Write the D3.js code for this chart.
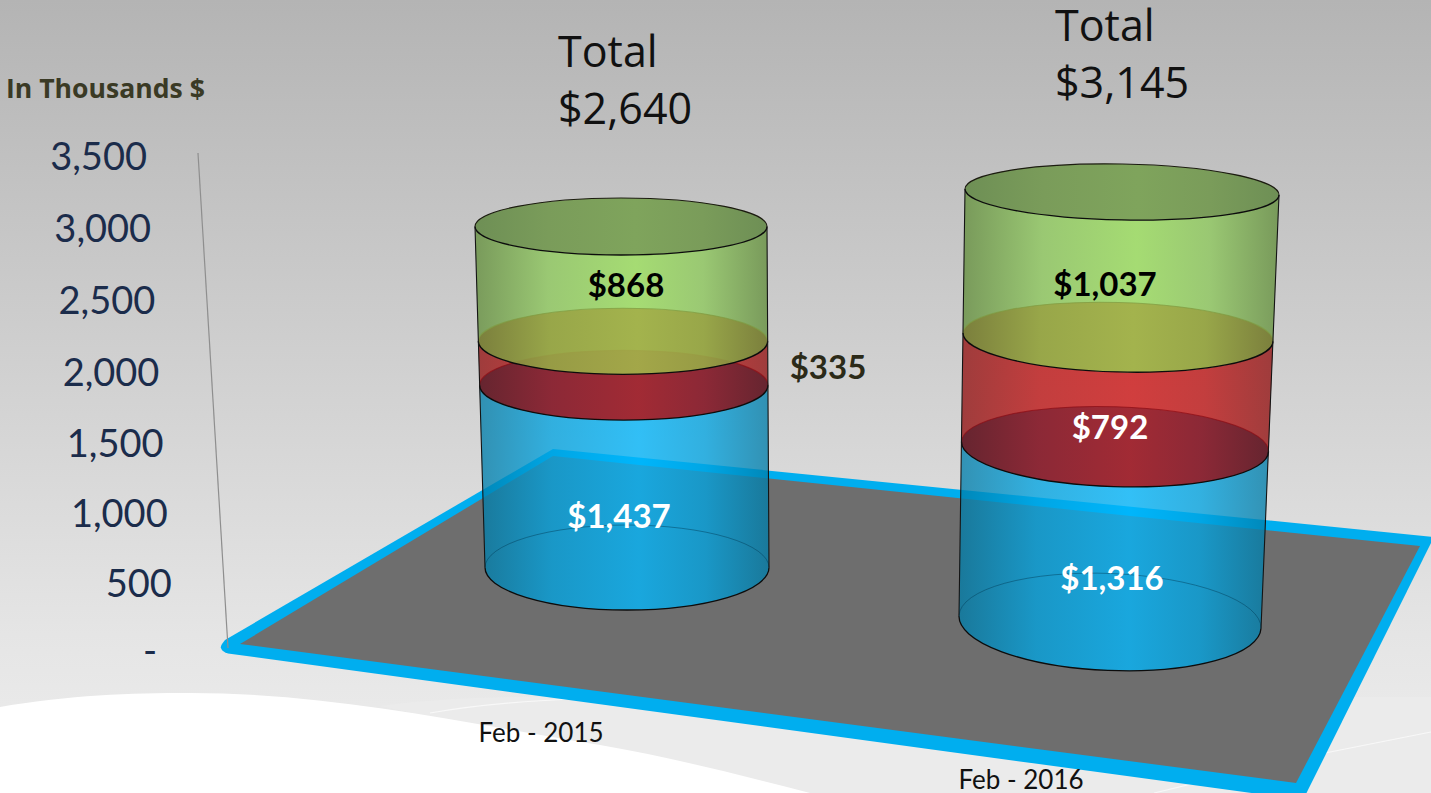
<!DOCTYPE html>
<html><head><meta charset="utf-8">
<script src="https://cdn.jsdelivr.net/npm/d3@7"></script>
<style>html,body{margin:0;padding:0;background:#fff;overflow:hidden}svg{display:block}text{font-family:Lato,"Open Sans",sans-serif}</style>
</head><body>
<script>
// ---- data ----
const categories = ["Feb - 2015", "Feb - 2016"];
const seriesBlue = [1437, 1316];
const seriesRed = [335, 792];
const seriesGreen = [868, 1037];
const totals = [2640, 3145];
const axisTicks = [0, 500, 1000, 1500, 2000, 2500, 3000, 3500];
const axisTitle = "In Thousands $";

// ---- perspective layout of each cylinder (pixel ranges for the scales) ----
const W = 1431, H = 793;
const cylGeom = [
  {y:[567.5,226.5], left:[485,475], right:[769,767], ry:[42.5,28.5], tilt:[0,0]},
  {y:[622,192],     left:[959,965], right:[1261,1279], ry:[48.5,28], tilt:[2.4,1.1]}
];
const labelPos = [
  [{x:619,y:516,c:"#fff"},{x:828,y:367,c:"#2b2a18"},{x:626,y:285,c:"#000"}],
  [{x:1112,y:578,c:"#fff"},{x:1110,y:427,c:"#fff"},{x:1105,y:284,c:"#000"}]
];
const totalPos = [{x:558,y:[67,124]},{x:1055,y:[41,98]}];

const svg = d3.select("body").append("svg").attr("width",W).attr("height",H);
const defs = svg.append("defs");

function hGrad(id, edge, mid, center){
  const g = defs.append("linearGradient").attr("id",id).attr("x1",0).attr("x2",1).attr("y1",0).attr("y2",0);
  [[0,edge],[.25,mid],[.55,center],[.78,mid],[1,edge]].forEach(([o,c])=>g.append("stop").attr("offset",o).attr("stop-color",c));
}
hGrad("gBlue","#007ca8","#00a4e2","#00b8ff");
hGrad("gRed","#962222","#c02424","#d02424");
hGrad("gGreen","#6b9248","#92c864","#9fdf64");
hGrad("dRed","#64242f","#8a2836","#a02a34");
hGrad("dOlive","#7b7d3a","#98a446","#a3b04a");
hGrad("dGreen","#6e8f55","#7a9c5a","#7fa45c");

const bg = defs.append("linearGradient").attr("id","bg").attr("x1",0).attr("x2",0).attr("y1",0).attr("y2",1);
bg.append("stop").attr("offset",0).attr("stop-color","#b4b4b4");
bg.append("stop").attr("offset",.8).attr("stop-color","#e5e5e5");
bg.append("stop").attr("offset",1).attr("stop-color","#eeeeee");
svg.append("rect").attr("width",W).attr("height",H).attr("fill","url(#bg)");

// white wave and pale swooshes at the bottom
svg.append("path").attr("fill","#ebebeb")
  .attr("d","M380,706 C450,697 520,696 600,697 L1431,697 L1431,793 L800,793 Z");
svg.append("path").attr("fill","#ffffff")
  .attr("d","M0,707 C70,695 130,693 190,693 C330,693 460,722 600,745 C670,757 740,775 810,793 L0,793 Z");
svg.append("path").attr("fill","none").attr("stroke","#f8f8f8").attr("stroke-width",1.2)
  .attr("d","M430,713 C470,706 520,701 575,699");
svg.append("path").attr("fill","none").attr("stroke","#f8f8f8").attr("stroke-width",1.2)
  .attr("d","M1320,754 L1431,732 M1154,793 L1200,782");

// floor
svg.append("path").attr("fill","#00aeef")
  .attr("d","M553,449 L1434,537 L1303,800 L228,653.5 Q218,650 222,644 L225,640 Z");
svg.append("path").attr("fill","#6e6e6e")
  .attr("d","M240,644 L553,456 L1420,546 L1296,783 Z");

// axis
const yAxisScale = d3.scalePow().exponent(1.023).domain([0,3500]).range([650,156]);
const xAxisScale = d3.scaleLinear().domain([0,3500]).range([176,147]);
svg.append("line").attr("x1",198).attr("y1",153).attr("x2",228).attr("y2",648)
  .attr("stroke","#8e8e8e").attr("stroke-width",1.2);
const fmt = d3.format(",");
const axisG = svg.append("g").call(d3.axisLeft(yAxisScale).tickValues(axisTicks).tickSize(0)
  .tickFormat(d => d===0 ? "-" : fmt(d)));
axisG.select(".domain").remove();
axisG.selectAll("text")
  .attr("font-family","Open Sans").attr("font-size",38).attr("fill","#1b2c4b").attr("dy","0.36em")
  .attr("text-anchor","end")
  .attr("x", d => d===0 ? 157 : xAxisScale(d));
svg.append("text").attr("x",6).attr("y",98).style("font-family","Open Sans").attr("font-size",26.6).attr("font-weight",700)
  .attr("fill","#3a3a25").text(axisTitle);

// cylinders
function cylinder(i){
  const g = cylGeom[i], total = totals[i];
  const stacks = [seriesBlue[i], seriesRed[i], seriesGreen[i]];
  const cum = d3.cumsum(stacks);
  const yS = d3.scalePow().exponent(1.03).domain([0,total]).range(g.y);
  const lS = d3.scaleLinear().domain([0,total]).range(g.left);
  const rS = d3.scaleLinear().domain([0,total]).range(g.right);
  const ryS = d3.scaleLinear().domain([0,total]).range(g.ry);
  const tS = d3.scaleLinear().domain([0,total]).range(g.tilt);
  const geo = v => {
    const t = tS(v), a = t*Math.PI/180, cx=(lS(v)+rS(v))/2, cy=yS(v), hw=(rS(v)-lS(v))/2;
    const rx = hw/Math.cos(a), dy = hw*Math.tan(a);
    return {t, rx, ry:ryS(v), L:[cx-hw,cy-dy], R:[cx+hw,cy+dy]};
  };
  const arc = (e,to,sw)=>`A${e.rx},${e.ry} ${e.t} 0 ${sw} ${to[0]},${to[1]}`;
  const disc = e=>`M${e.L} ${arc(e,e.R,0)} ${arc(e,e.L,0)}Z`;
  const frontArc = e=>`M${e.L} ${arc(e,e.R,0)}`;
  const backArc = e=>`M${e.L} ${arc(e,e.R,1)}`;
  const levels = [0, ...cum].map(geo);
  const root = svg.append("g");
  const bodyFills = ["url(#gBlue)","url(#gRed)","url(#gGreen)"];
  const bodyAlpha = [.77,.85,.85];
  const discFills = ["url(#dRed)","url(#dOlive)","url(#dGreen)"];
  const discAlpha = [.97,.93,1];
  const backColors = ["#8a0c14","#7f9a40","#1c1c10"];
  stacks.forEach((s,k)=>{
    const a=levels[k], b=levels[k+1];
    root.append("path").attr("fill",bodyFills[k]).attr("fill-opacity",bodyAlpha[k])
      .attr("d",`M${b.L} ${arc(b,b.R,0)} L${a.R} ${arc(a,a.L,1)}Z`);
  });
  root.append("path").attr("fill","none").attr("stroke","#003a55").attr("stroke-opacity",.45).attr("stroke-width",1)
    .attr("d",backArc(levels[0]));
  // each disc covers the one below it; its own back rim goes straight on top of it
  stacks.forEach((s,k)=>{
    root.append("path").attr("fill",discFills[k]).attr("fill-opacity",discAlpha[k]).attr("d",disc(levels[k+1]));
    root.append("path").attr("fill","none").attr("stroke",backColors[k]).attr("stroke-width",1.1)
      .attr("stroke-opacity",k===2?1:.7).attr("d",backArc(levels[k+1]));
  });
  levels.forEach(e=>{
    root.append("path").attr("fill","none").attr("stroke","#0c0c0c").attr("stroke-width",1.3).attr("d",frontArc(e));
  });
  const side = d3.line();
  root.append("path").attr("fill","none").attr("stroke","#141414").attr("stroke-width",1.1)
    .attr("d",side([levels[0].L,levels[3].L])+side([levels[0].R,levels[3].R]));
  // value labels
  stacks.forEach((s,k)=>{
    const p = labelPos[i][k];
    svg.append("text").attr("x",p.x).attr("y",p.y).attr("dy","0.36em").attr("text-anchor","middle")
      .attr("font-size",33).attr("font-weight",700).attr("fill",p.c).text("$"+fmt(s));
  });
  // total
  const tp = totalPos[i];
  [ "Total", "$"+fmt(total) ].forEach((txt,k)=>{
    svg.append("text").attr("x",tp.x).attr("y",tp.y[k]).style("font-family","Open Sans").attr("font-size",43).attr("fill","#111").text(txt);
  });
}
categories.forEach((c,i)=>cylinder(i));

// category labels
const xCat = d3.scalePoint().domain(categories).range([541,1021]);
const yCat = d3.scalePoint().domain(categories).range([733,780]);
svg.selectAll("text.cat").data(categories).join("text").attr("class","cat")
  .attr("x",d=>xCat(d)).attr("y",d=>yCat(d)).attr("dy","0.35em").attr("text-anchor","middle")
  .attr("font-size",26).attr("fill","#111").text(d=>d);
</script>
</body></html>
